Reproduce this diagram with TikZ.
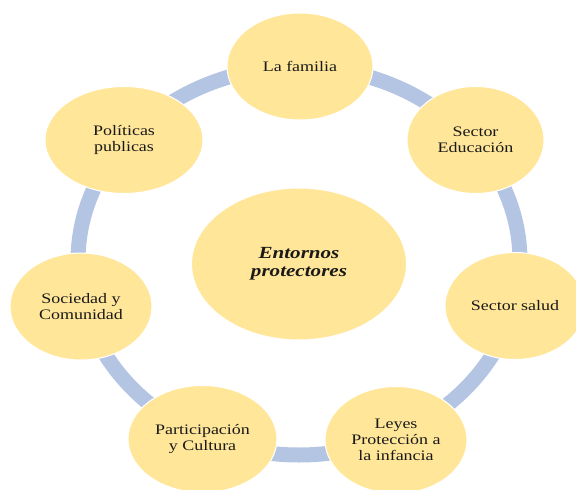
\documentclass[tikz,border=0pt]{standalone}
\usepackage{fontspec}
\setmainfont{Liberation Serif}[FakeStretch=1.24]
\usetikzlibrary{shapes.geometric}
\definecolor{ringblue}{HTML}{B4C5E4}
\definecolor{bubblefill}{HTML}{FFE699}

\begin{document}
\begin{tikzpicture}[x=1bp, y=-1bp,
roundnode/.style={ellipse, draw=white, line width=1bp, fill=bubblefill, inner sep=0pt, minimum height=107bp, align=center, text=black!90, font=\fontsize{14.5bp}{15.7bp}\selectfont},
ringline/.style={draw=ringblue, line width=15bp},
]
\useasboundingbox (0,0) rectangle (576,490);
%Ring
\draw[ringline] (299,261) ellipse [x radius=221bp, y radius=194bp];

%Nodes
\node[roundnode, minimum width=215bp, minimum height=152bp, font=\fontsize{17bp}{18bp}\selectfont\bfseries\itshape] (ent) at (299,264) {Entornos\\protectores};
\node[roundnode, minimum width=146bp]      (fam)     at (300,66.5)  {La familia};
\node[roundnode, minimum width=137bp]      (edu)     at (475.5,140) {Sector\\Educación};
\node[roundnode, minimum width=140bp]      (sal)     at (515,306)   {Sector salud};
\node[roundnode, minimum width=142bp]      (ley)     at (396,440)   {Leyes\\Protección a\\la infancia};
\node[roundnode, minimum width=149bp]      (par)     at (202.5,439) {Participación\\y Cultura};
\node[roundnode, minimum width=142bp]      (soc)     at (81,306.5)  {Sociedad y\\Comunidad};
\node[roundnode, minimum width=158bp]      (pol)     at (124,140)   {Políticas\\publicas};
\end{tikzpicture}
\end{document}
